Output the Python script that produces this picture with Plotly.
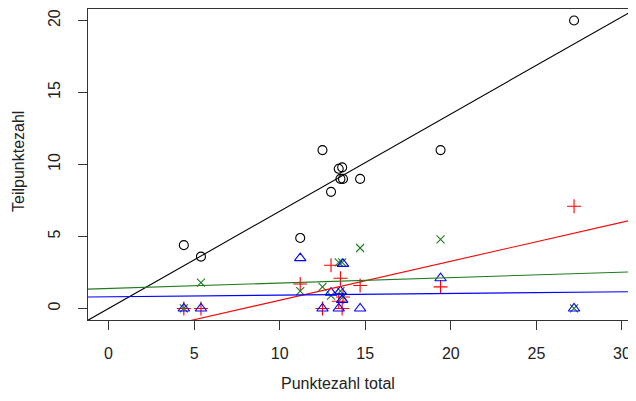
import numpy as np
import plotly.graph_objects as go

# Data: per student total score and four partial scores
total = [4.4, 5.4, 11.2, 12.5, 13.0, 13.45, 13.55, 13.65, 13.7, 14.7, 19.4, 27.2]
part_black = [4.4, 3.6, 4.9, 11.0, 8.1, 9.7, 9.0, 9.8, 9.0, 9.0, 11.0, 20.0]
part_red = [0.0, 0.0, 1.7, 0.0, 3.0, 0.5, 2.1, 0.0, 0.8, 1.6, 1.5, 7.1]
part_green = [0.0, 1.8, 1.2, 1.5, 0.9, 3.2, 1.2, 3.2, 0.8, 4.2, 4.8, 0.0]
part_blue = [0.0, 0.0, 3.5, 0.0, 1.1, 0.0, 1.2, 0.6, 3.1, 0.0, 2.1, 0.0]

x_ticks = [0, 5, 10, 15, 20, 25, 30]
y_ticks = [0, 5, 10, 15, 20]

XR = [-1.2, 30.82]
YR = [-0.8, 20.8]

FONT = "Liberation Sans, Arial, Helvetica, sans-serif"
GREEN = "#1E7B1E"

series = [
    (part_black, "black", "circle-open", 9),
    (part_red, "#FF0000", "cross-thin-open", 10),
    (part_green, GREEN, "x-thin-open", 8),
    (part_blue, "#0000FF", "triangle-up-open", 10),
]

fig = go.Figure()
xt = np.array(total)
for vals, col, sym, sz in series:
    fig.add_trace(go.Scatter(
        x=total, y=vals, mode="markers",
        marker=dict(symbol=sym, size=sz, color=col, line=dict(color=col, width=1.1)),
        showlegend=False, hoverinfo="skip", cliponaxis=False))

for vals, col, sym, sz in series:
    b, a = np.polyfit(xt, np.array(vals), 1)
    xs = np.array(XR)
    fig.add_trace(go.Scatter(
        x=xs, y=a + b * xs, mode="lines",
        line=dict(color=col, width=1.1),
        showlegend=False, hoverinfo="skip"))

H = 385
PB = 312  # plot bottom within figure (page y 320)
fig.update_layout(
    width=628, height=H,
    margin=dict(l=80, r=0, t=1, b=H - PB, autoexpand=False),
    paper_bgcolor="white", plot_bgcolor="white",
    font=dict(family=FONT, size=16, color="#222"),
    xaxis=dict(range=XR, tickvals=x_ticks, ticktext=[str(v) for v in x_ticks],
               automargin=False,
               showgrid=False, zeroline=False, showline=True, mirror=True,
               linecolor="#333", linewidth=1, ticks="outside", ticklen=9,
               tickcolor="#333", tickwidth=1, ticklabelstandoff=10,
               tickfont=dict(family=FONT, size=16, color="#222")),
    yaxis=dict(range=YR, tickvals=y_ticks, ticktext=[str(v) for v in y_ticks],
               automargin=False,
               showgrid=False, zeroline=False, showline=True, mirror=False,
               linecolor="#333", linewidth=1, ticks="outside", ticklen=9,
               tickcolor="#333", tickwidth=1, tickangle=-90, ticklabelstandoff=12,
               tickfont=dict(family=FONT, size=16, color="#222")),
    annotations=[
        dict(text="Punktezahl total", xref="paper", yref="paper",
             x=(338 - 88) / 548, y=-(383 - 320) / 311, xanchor="center", yanchor="middle",
             borderpad=0, showarrow=False, font=dict(family=FONT, size=16, color="#222")),
        dict(text="Teilpunktezahl", xref="paper", yref="paper",
             x=-(88 - 18) / 548, y=(320 - 162) / 311, xanchor="center", yanchor="middle",
             textangle=-90, showarrow=False, font=dict(family=FONT, size=16, color="#222")),
    ],
)

fig.write_html("out.html")
